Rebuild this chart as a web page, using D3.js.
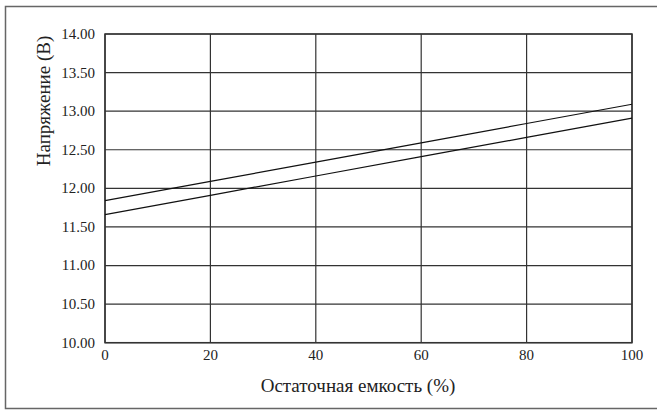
<!DOCTYPE html>
<html><head><meta charset="utf-8">
<script src="https://cdn.jsdelivr.net/npm/d3@7"></script>
<style>
body{margin:0;background:#fff}
#wrap{position:relative;width:657px;height:410px}
svg{display:block;position:absolute;left:0;top:0}
</style>
</head><body><div id="wrap"><svg id="c" width="657" height="410"></svg></div>
<script>
const capacity = [0, 20, 40, 60, 80, 100];
const upperVoltage = [11.84, 12.09, 12.34, 12.59, 12.84, 13.09];
const lowerVoltage = [11.66, 11.91, 12.16, 12.41, 12.66, 12.91];
const xTicks = [0, 20, 40, 60, 80, 100];
const yTicks = [10, 10.5, 11, 11.5, 12, 12.5, 13, 13.5, 14];
const xTitle = "Остаточная емкость (%)";
const yTitle = "Напряжение (В)";

const SERIF = "'Liberation Serif', 'Times New Roman', Times, serif";
const svg = d3.select("#c");
const L = 105, R = 632, T = 34, B = 342.7;
const x = d3.scaleLinear().domain([0, 100]).range([L, R]);
const y = d3.scaleLinear().domain([10, 14]).range([B, T]);

svg.append("path").attr("d", "M657,6.5H5.5V408.5H657").attr("fill","none").attr("stroke","#666").attr("stroke-width",1.5);
svg.append("g").selectAll("line").data(yTicks).join("line")
  .attr("x1", L).attr("x2", R).attr("y1", d => y(d)).attr("y2", d => y(d))
  .attr("stroke", "#333").attr("stroke-width", 1.2);
svg.append("g").selectAll("line").data(xTicks).join("line")
  .attr("x1", d => x(d)).attr("x2", d => x(d)).attr("y1", T).attr("y2", B)
  .attr("stroke", "#333").attr("stroke-width", 1.2);
svg.append("rect").attr("x", L).attr("y", T).attr("width", R - L).attr("height", B - T)
  .attr("fill", "none").attr("stroke", "#333").attr("stroke-width", 1.5);
const line = vals => d3.line().x((d, i) => x(capacity[i])).y(d => y(d))(vals);
[upperVoltage, lowerVoltage].forEach(v => {
  svg.append("path").attr("d", line(v)).attr("fill", "none").attr("stroke", "#111").attr("stroke-width", 1.2);
});

function serif(sel, size) {
  return sel.attr("font-family", SERIF).attr("font-size", size).attr("fill", "#222")
    .style("font-family", SERIF, "important").style("font-size", size + "px", "important");
}

// tick labels
serif(svg.append("g").selectAll("text").data(yTicks).join("text"), 15)
  .attr("x", L - 10).attr("y", d => y(d)).attr("dy", "0.33em").attr("text-anchor", "end")
  .text(d => d3.format(".2f")(d));
serif(svg.append("g").selectAll("text").data(xTicks).join("text"), 15)
  .attr("x", d => x(d)).attr("y", B + 17).attr("text-anchor", "middle")
  .text(d => d);

// titles
const xt = serif(svg.append("text"), 17).attr("x", 358).attr("y", 392)
  .attr("text-anchor", "middle").text(xTitle);
const xfs = Math.min(19, 17 * 227 / xt.node().getComputedTextLength());
serif(xt, xfs);

const yt = serif(svg.append("text"), 17).attr("transform", "translate(50,101) rotate(-90)")
  .attr("text-anchor", "middle").text(yTitle);
const yfs = Math.min(19, 17 * 142 / yt.node().getComputedTextLength());
serif(yt, yfs);
</script></body></html>
